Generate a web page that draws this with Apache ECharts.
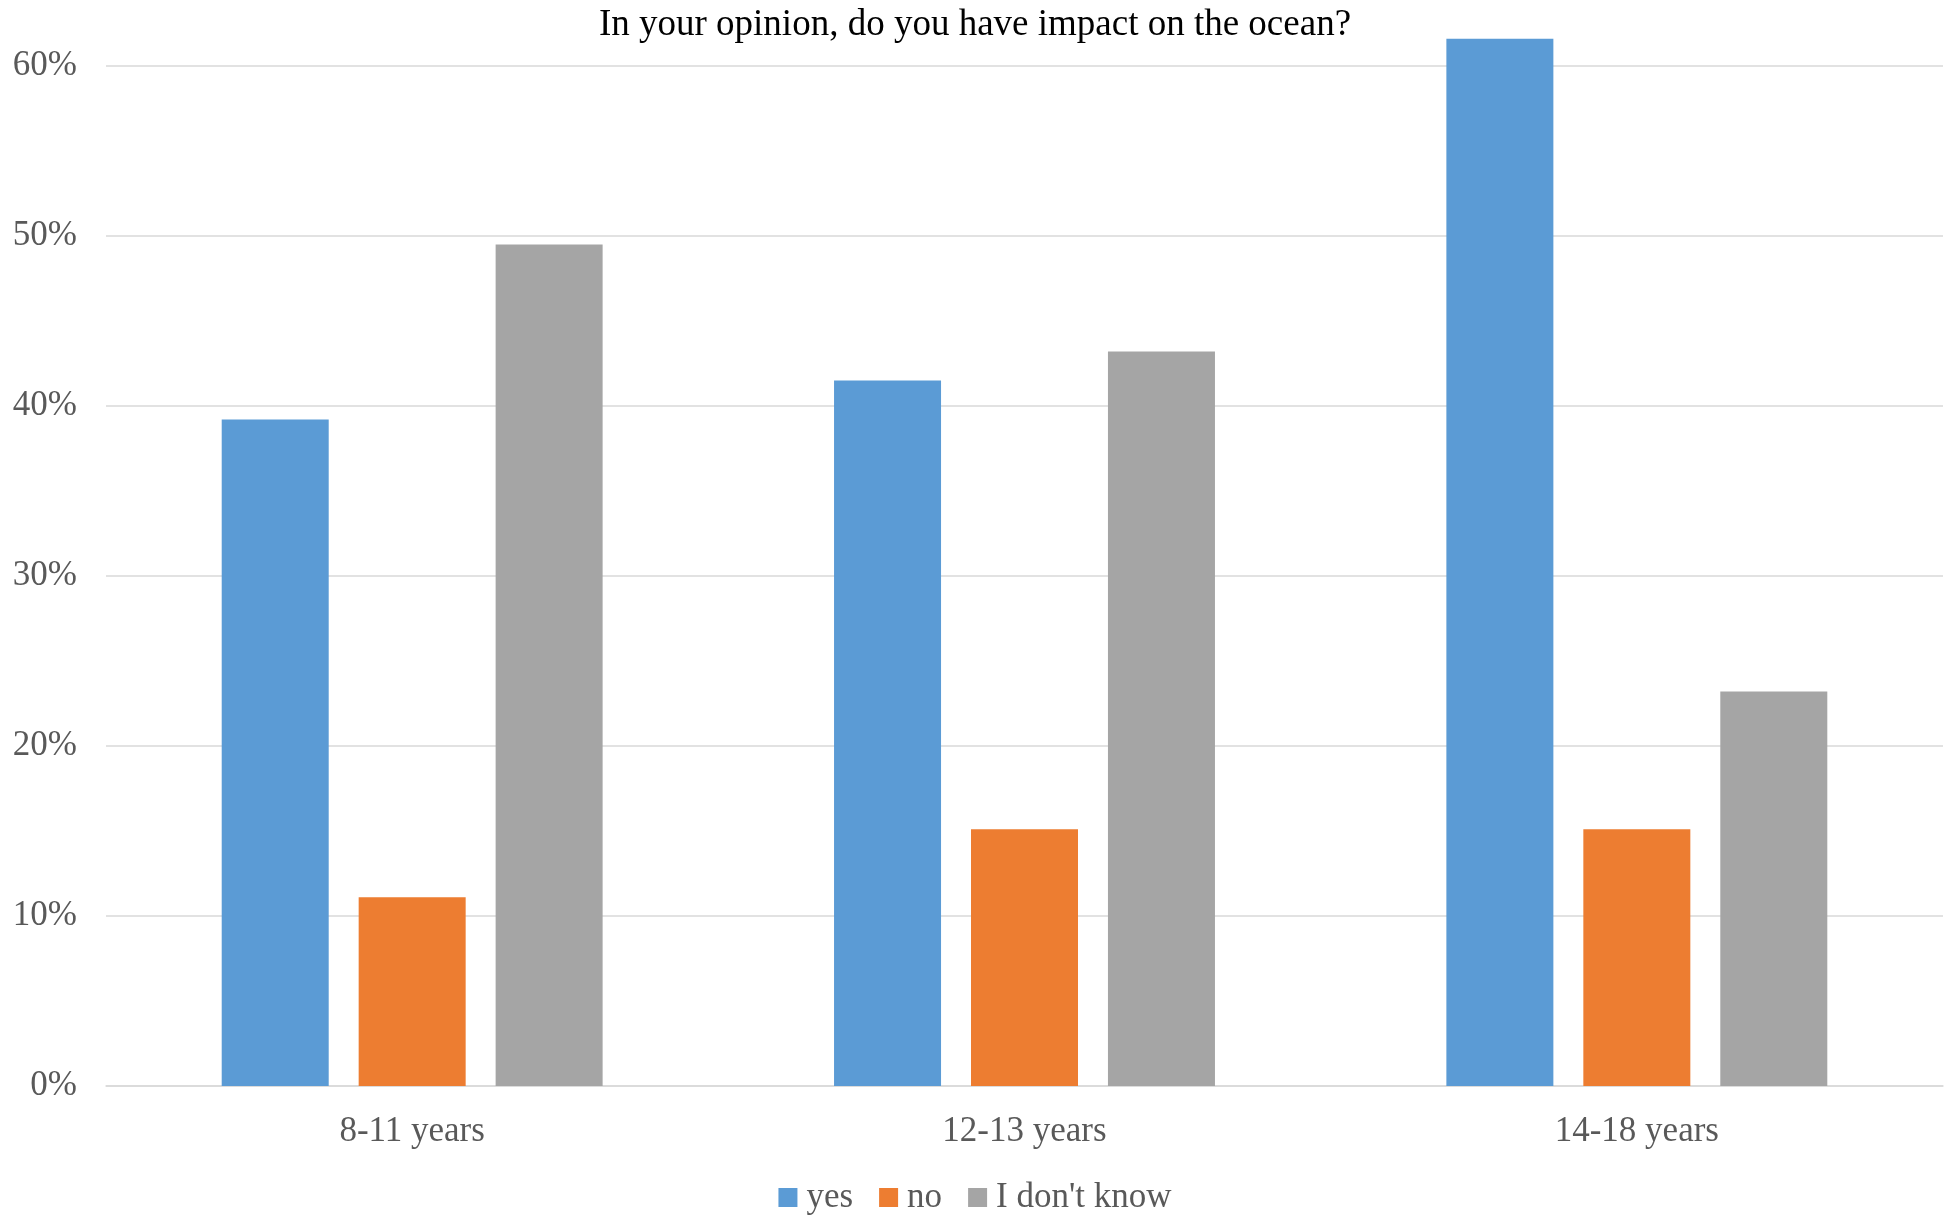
<!DOCTYPE html>
<html>
<head>
<meta charset="utf-8">
<script src="https://cdn.jsdelivr.net/npm/echarts@6/dist/echarts.min.js"></script>
<style>
html,body{margin:0;padding:0;background:#fff;}
#chart{width:1950px;height:1218px;}
</style>
</head>
<body>
<div id="chart"></div>
<script>
var categories = ['8-11 years', '12-13 years', '14-18 years'];
var yesValues = [39.2, 41.5, 61.6];
var noValues = [11.1, 15.1, 15.1];
var dontKnowValues = [49.5, 43.2, 23.2];

var serif = '"Liberation Serif", "Times New Roman", serif';
var chart = echarts.init(document.getElementById('chart'));

var option = {
    color: ['#5B9BD5', '#ED7D31', '#A5A5A5'],
    animation: false,
    title: {
        text: 'In your opinion, do you have impact on the ocean?',
        left: 'center',
        top: 2,
        textStyle: {fontFamily: serif, fontSize: 37, fontWeight: 'normal', color: '#000'}
    },
    legend: {
        bottom: -2,
        left: 'center',
        itemWidth: 19,
        itemHeight: 19,
        itemGap: 26,
        icon: 'rect',
        textStyle: {fontFamily: serif, fontSize: 35, color: '#595959', padding: [0, 0, 0, 4]},
        data: ['yes', 'no', "I don't know"]
    },
    grid: {left: 106, right: 7, top: 66, bottom: 132},
    xAxis: {
        type: 'category',
        data: categories,
        axisLine: {lineStyle: {color: '#D9D9D9', width: 1.5}},
        axisTick: {show: false},
        axisLabel: {fontFamily: serif, fontSize: 35, color: '#595959', margin: 28}
    },
    yAxis: {
        type: 'value',
        min: 0,
        max: 60,
        interval: 10,
        axisLine: {show: false},
        axisTick: {show: false},
        splitLine: {lineStyle: {color: '#D9D9D9', width: 1.5}},
        axisLabel: {fontFamily: serif, fontSize: 35, color: '#595959', margin: 29, formatter: '{value}%'}
    },
    series: [
        {name: 'yes', type: 'bar', data: yesValues, barWidth: 107, barGap: '28%', clip: false},
        {name: 'no', type: 'bar', data: noValues, barWidth: 107, barGap: '28%', clip: false},
        {name: "I don't know", type: 'bar', data: dontKnowValues, barWidth: 107, barGap: '28%', clip: false}
    ]
};
chart.setOption(option);
</script>
</body>
</html>
